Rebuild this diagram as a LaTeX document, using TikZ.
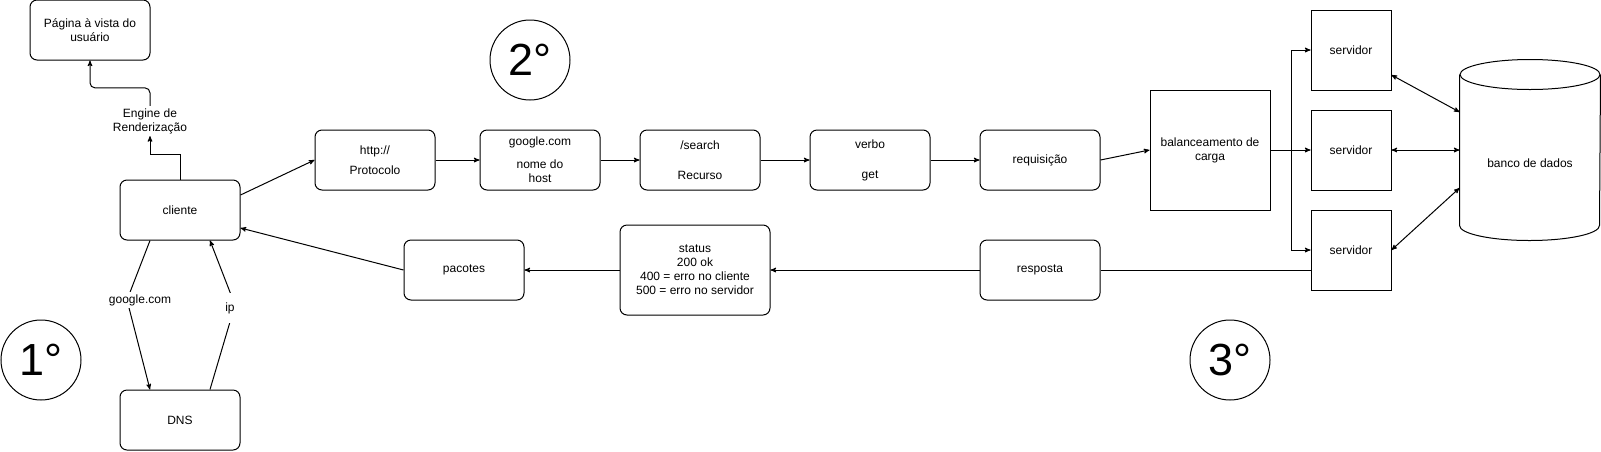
\documentclass[tikz,border=0pt]{standalone}
\usepackage{fontspec}
\setmainfont{Liberation Sans}
\usetikzlibrary{positioning}
\usetikzlibrary{arrows}

\begin{document}
\begin{tikzpicture}[x=1pt,y=-1pt,->,>=stealth',line width=1pt,
	every node/.style={font=\fontsize{12}{14}\selectfont},
	round node/.style={draw,rounded corners=7pt,fill=white,align=center,
		minimum width=120pt,minimum height=60pt,inner sep=2pt},
	box node/.style={draw,fill=white,align=center,minimum width=80pt,minimum height=80pt},
	edge label/.style={fill=white,inner sep=2pt,align=center},
	phase/.style={circle,draw,minimum size=80pt,inner sep=0pt,font=\fontsize{45}{54}\selectfont}]
	
	\useasboundingbox (0,0) rectangle (1601,451);
	
	% cliente, DNS e pagina
	\node[round node] (pag) at (90,30) {Página à vista do\\usuário};
	\node[round node] (cli) at (180,210) {cliente};
	\node[round node] (dns) at (180,420) {DNS};
	\node[edge label] (render) at (150,121) {Engine de\\Renderização};
	
	% requisicao
	\node[round node] (prot) at (375,160) {http://\\[6pt]Protocolo};
	\node[round node] (host) [right=44pt of prot] {google.com\\[9pt]nome do\\host};
	\node[round node] (rec) [right=39pt of host] {/search\\[16pt]Recurso};
	\node[round node] (verb) [right=49pt of rec] {verbo\\[16pt]get};
	\node[round node] (req) [right=49pt of verb] {requisição};
	\node[draw,fill=white,align=center,minimum width=120pt,minimum height=120pt] (bal) at (1210,150) {balanceamento de\\carga};
	
	% servidores e banco
	\node[box node] (s1) at (1351,50) {servidor};
	\node[box node] (s2) at (1351,150) {servidor};
	\node[box node] (s3) at (1351,250) {servidor};
	\node[minimum width=140pt,minimum height=180pt,
		label={[yshift=-13pt]center:banco de dados}] (db) at (1530,150) {};
	\draw[-] ([yshift=-15pt]db.north west) -- ([yshift=15pt]db.south west)
		arc[start angle=180,end angle=360,x radius=70pt,y radius=15pt]
		-- ([yshift=-15pt]db.north east);
	\draw[-] ([yshift=-15pt]db.north) ellipse[x radius=70pt,y radius=15pt];
	
	% resposta
	\node[round node] (resp) at (1040,270) {resposta};
	\node[round node,minimum width=150pt,minimum height=90pt] (stat) at (695,270) {status\\200 ok\\400 = erro no cliente\\500 = erro no servidor};
	\node[round node] (pac) at (464,270) {pacotes};
	
	% etapas
	\node[phase] (p1) at (41,360) {1°};
	\node[phase] (p2) at (530,60) {2°};
	\node[phase] (p3) at (1230,360) {3°};
	
	\draw (cli.north) -- ++(0,-25) -| (render.south);
	\draw[rounded corners=5pt] (render.north) -- ++(0,-18) -| (pag.south);
	
	\coordinate (gbend) at (127,300);
	\coordinate (ipbend) at (235,305);
	\draw ([xshift=-30pt]cli.south) -- (gbend) -- ([xshift=-30pt]dns.north);
	\draw ([xshift=30pt]dns.north) -- (ipbend) -- ([xshift=30pt]cli.south);
	\node[edge label] (lgoogle) at (140,300) {google.com};
	\node[edge label,minimum width=16pt,minimum height=30pt] (lip) at (230,308) {ip};
	
	\draw ([yshift=15pt]cli.east) -- (prot.west);
	\draw (prot.east) -- (host.west);
	\draw (host.east) -- (rec.west);
	\draw (rec.east) -- (verb.west);
	\draw (verb.east) -- (req.west);
	\draw (req.east) -- (bal.west);
	
	\coordinate (split) at ([xshift=21pt]bal.east);
	\draw (bal.east) -- (s2.west);
	\draw (split) |- (s1.west);
	\draw (split) |- (s3.west);
	
	\draw[<->] ([yshift=-25pt]s1.east) -- ([yshift=38pt]db.west);
	\draw[<->] (s2.east) -- (db.west);
	\draw[<->] (s3.east) -- ([yshift=-38pt]db.west);
	
	\draw[-] ([yshift=-20pt]s3.west) -- (resp.east);
	\draw (resp.west) -- (stat.east);
	\draw (stat.west) -- (pac.east);
	\draw (pac.west) -- ([yshift=-18pt]cli.east);
\end{tikzpicture}
\end{document}
